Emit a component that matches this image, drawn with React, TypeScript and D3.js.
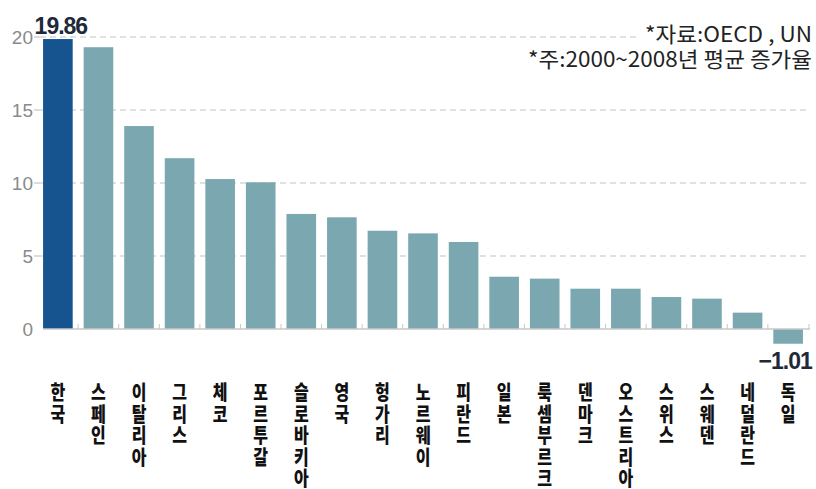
import React from "react";
import * as d3 from "d3";

const categories = ["한국", "스페인", "이탈리아", "그리스", "체코", "포르투갈", "슬로바키아", "영국", "헝가리", "노르웨이", "피란드", "일본", "룩셈부르크", "덴마크", "오스트리아", "스위스", "스웨덴", "네덜란드", "독일"];
const values = [19.86, 19.3, 13.9, 11.7, 10.27, 10.05, 7.88, 7.65, 6.73, 6.55, 5.96, 3.58, 3.45, 2.76, 2.76, 2.19, 2.08, 1.12, -1.01];
const yTicks = [0, 5, 10, 15, 20];
const sourceLines = ["*자료:OECD , UN", "*주:2000~2008년 평균 증가율"];
const sourceWidths = [167, 284];
const highlight = "한국";

const W = 816;
const H = 489;
const NUM_FONT = "'Liberation Sans Narrow', 'Liberation Sans', Arial, sans-serif";
const KR_FONT = "'Noto Sans CJK KR', 'Noto Sans', sans-serif";

export default function App() {
  const x = d3.scaleBand<string>().domain(categories).range([38, 808]).paddingInner(0.27).paddingOuter(0.125);
  const y = d3.scaleLinear().domain([0, 20]).range([329, 37]);
  const step = x.step();
  const bw = x.bandwidth();
  const gridRight = 810;

  return (
    <div style={{ position: "absolute", left: 0, top: 0, width: W, height: H, background: "#fff" }}>
      <svg width={W} height={H} style={{ display: "block" }}>
        {/* gridlines */}
        {yTicks.filter((t) => t !== 0).map((t) => (
          <g key={t}>
            <line x1={34} x2={40} y1={y(t)} y2={y(t)} stroke="#b8b8b8" strokeWidth={1} />
            <line x1={40} x2={t === 20 ? 640 : gridRight} y1={y(t)} y2={y(t)} stroke="#c4c4c4" strokeWidth={1.2} strokeDasharray="6,4" />
          </g>
        ))}
        {/* y tick labels */}
        {yTicks.map((t) => (
          <text key={"l" + t} x={33} y={y(t) + 7} textAnchor="end" fontFamily={NUM_FONT} fontSize={19} fill="#8a8a8a">
            {t}
          </text>
        ))}
        {/* bars */}
        {categories.map((c, i) => {
          const v = values[i];
          const x0 = x(c)!;
          return (
            <rect key={c} x={x0} width={bw} y={Math.min(y(v), y(0))} height={Math.abs(y(v) - y(0))} fill={c === highlight ? "#15548f" : "#7ba8b0"} />
          );
        })}
        {/* baseline */}
        <line x1={43} x2={gridRight} y1={y(0)} y2={y(0)} stroke="#c8c8c8" strokeWidth={1.5} />
        {categories.slice(1).map((c) => {
          const bx = x(c)! - (step - bw) / 2;
          return <line key={"t" + c} x1={bx} x2={bx} y1={y(0)} y2={y(0) - 5} stroke="#c8c8c8" strokeWidth={1} />;
        })}
        <line x1={gridRight - 1} x2={gridRight - 1} y1={y(0)} y2={y(0) - 5} stroke="#c8c8c8" strokeWidth={1} />
        {/* value labels */}
        <text x={x(categories[0])! + bw / 2 + 3} y={y(values[0]) - 5} textAnchor="middle" fontFamily={NUM_FONT} fontWeight="bold" fontSize={23} fill="#1e2a3a" letterSpacing={-1}>
          {values[0].toFixed(2)}
        </text>
        <text x={x(categories[categories.length - 1])! + bw / 2 - 3} y={y(values[values.length - 1]) + 25} textAnchor="middle" fontFamily={NUM_FONT} fontWeight="bold" fontSize={23} fill="#1e2a3a" letterSpacing={-1}>
          {"\u2212" + Math.abs(values[values.length - 1]).toFixed(2)}
        </text>
        {/* source notes */}
        {sourceLines.map((s, i) => (
          <text key={s} x={812 - sourceWidths[i]} y={42 + i * 25} fontFamily={KR_FONT} fontSize={21} fill="#222" textLength={sourceWidths[i]} lengthAdjust="spacingAndGlyphs">
            {s}
          </text>
        ))}
        {/* category labels, vertical */}
        {categories.map((c) => {
          const cx = x(c)! + bw / 2;
          return (
            <g key={"c" + c}>
              {Array.from(c).map((ch, j) => (
                <text key={j} transform={`translate(${cx},${400 + j * 21.5}) scale(0.8,1)`} textAnchor="middle" fontFamily={KR_FONT} fontWeight={900} fontSize={20} fill="#111">
                  {ch}
                </text>
              ))}
            </g>
          );
        })}
      </svg>
    </div>
  );
}
